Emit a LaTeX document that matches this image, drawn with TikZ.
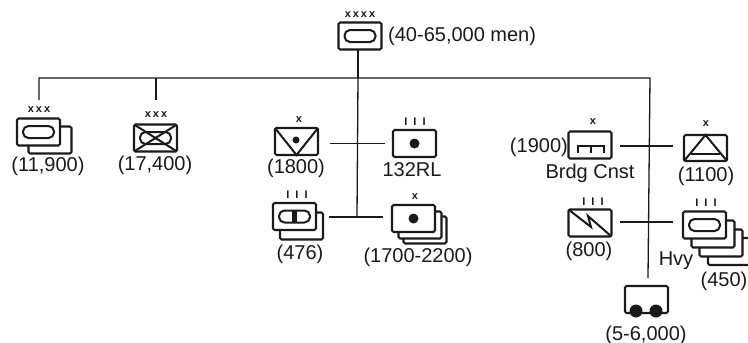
\documentclass[tikz,border=0pt]{standalone}
\usepackage{fontspec}
\setmainfont{Liberation Sans}
\usepackage{xcolor}
\definecolor{ink_black}{HTML}{1a1a1a}
\usetikzlibrary{positioning,calc}
\tikzset{UNIT/.style={rectangle,rounded corners=1.5pt,draw=ink_black,line width=2.1pt,fill=white,minimum width=43pt,minimum height=27pt,inner sep=0pt,outer sep=0pt}}
\tikzset{PILL/.style={rectangle,rounded corners=5.5pt,draw=ink_black,line width=2pt,minimum width=31pt,minimum height=12pt,inner sep=0pt}}
\tikzset{LABEL/.style={text=ink_black,font=\fontsize{20}{21}\selectfont,inner sep=0pt}}
\tikzset{ECHELON/.style={text=ink_black,font=\fontsize{11}{12}\selectfont\bfseries,inner sep=0pt}}
\tikzset{LINE/.style={draw=ink_black,line width=1.3pt}}
\tikzset{MARK/.style={draw=ink_black,line width=2pt}}
\tikzset{DOT/.style={circle,fill=ink_black,inner sep=0pt,minimum size=10pt}}

\begin{document}
\begin{tikzpicture}[x=1pt,y=-1pt]
\useasboundingbox[fill=white] (0,0) rectangle (748,343);

% army
\node[UNIT] (n_army) at (360,36) {};
\node[PILL] (n_army_pill) at (n_army.center) {};
\node[ECHELON] (n_army_ech) at (360,15) {x\hspace{2pt}x\hspace{2pt}x\hspace{2pt}x};
\node[LABEL,anchor=west] (n_army_txt) at (388,36) {(40-65,000 men)};

\coordinate (c_top) at (358,78);
\coordinate (c_left) at (39,78);
\coordinate (c_right) at (650,78);
\draw[LINE] (n_army.south-|c_top) -- (c_top);
\draw[LINE] (39,100) -- (c_left) -- (c_right) -- (648,278);

% corps
\node[UNIT] (n_corps_b) at (50,140) {};
\node[UNIT] (n_corps) at (38.5,132) {};
\node[PILL] (n_corps_pill) at (n_corps.center) {};
\node[ECHELON] (n_corps_ech) at (39,110) {x\hspace{2pt}x\hspace{2pt}x};
\node[LABEL] (n_corps_txt) at (48,166) {(11,900)};

\node[UNIT] (n_armor) at (155.5,138) {};
\node[PILL] (n_armor_pill) at (n_armor.center) {};
\draw[MARK] (n_armor.north west) -- (n_armor.south east);
\draw[MARK] (n_armor.south west) -- (n_armor.north east);
\node[DOT,minimum size=3pt] (n_armor_dot) at (n_armor.center) {};
\node[ECHELON] (n_armor_ech) at (156,115) {x\hspace{2pt}x\hspace{2pt}x};
\node[LABEL] (n_armor_txt) at (155,165) {(17,400)};
\coordinate (c_armor) at (156,100);
\draw[LINE] (c_armor) -- (c_armor|-c_left);

% centre column
\draw[LINE] (c_top) -- (357,217);

\node[UNIT] (n_ab) at (296.5,141.5) {};
\draw[MARK] (n_ab.north west) -- (n_ab.south) -- (n_ab.north east);
\node[DOT,minimum size=7pt] (n_ab_dot) at (296,140) {};
\node[ECHELON] (n_ab_ech) at (299,120) {x};
\node[LABEL] (n_ab_txt) at (296,168) {(1800)};

\node[UNIT] (n_rl) at (414.5,143.5) {};
\node[DOT] (n_rl_dot) at (n_rl.center) {};
\node[ECHELON] (n_rl_ech) at (415,122) {I\hspace{6pt}I\hspace{6pt}I};
\node[LABEL] (n_rl_txt) at (412,170) {132RL};
\coordinate (c_rl_w) at ($(n_rl.west)+(-8,0)$);
\coordinate (c_ab_e) at (330,143.5);
\draw[LINE] (c_ab_e) -- (c_rl_w);

\node[UNIT] (n_mech_b) at (301.5,226) {};
\node[UNIT] (n_mech) at (294.5,216.5) {};
\node[PILL] (n_mech_pill) at (n_mech.center) {};
\node[rectangle,fill=ink_black,inner sep=0pt,minimum width=5pt,minimum height=11pt] (n_mech_bar) at (n_mech.center) {};
\node[ECHELON] (n_mech_ech) at (297,195) {I\hspace{6pt}I\hspace{6pt}I};
\node[LABEL] (n_mech_txt) at (300,254) {(476)};

\node[UNIT] (n_art_c) at (425,230) {};
\node[UNIT] (n_art_b) at (420,225) {};
\node[UNIT] (n_art) at (413.5,218.5) {};
\node[DOT] (n_art_dot) at (n_art.center) {};
\node[ECHELON] (n_art_ech) at (415,197) {x};
\node[LABEL] (n_art_txt) at (418,257) {(1700-2200)};
\coordinate (c_mech_e) at (329,217);
\coordinate (c_art_w) at (383,217);
\draw[LINE] (c_mech_e) -- (c_art_w);

% right column
\node[UNIT] (n_brdg) at (590,145) {};
\draw[MARK] (578,153) -- (578,146) -- (604,146) -- (604,153);
\draw[MARK] (591,146) -- (591,153);
\node[ECHELON] (n_brdg_ech) at (593,122) {x};
\node[LABEL,anchor=east] (n_brdg_txt) at (568,147) {(1900)};
\node[LABEL] (n_brdg_name) at (590,173) {Brdg Cnst};

\node[UNIT,minimum height=26pt] (n_tri) at (705.5,148) {};
\draw[MARK] (n_tri.south west) -- (n_tri.north) -- (n_tri.south east);
\draw[MARK] (691,154) -- (720,154);
\node[ECHELON] (n_tri_ech) at (706,124) {x};
\node[LABEL] (n_tri_txt) at (706,176) {(1100)};
\coordinate (c_brdg_e) at (620,146);
\coordinate (c_tri_w) at (673,146);
\draw[LINE] (c_brdg_e) -- (c_tri_w);

\node[UNIT] (n_sig) at (590,223) {};
\draw[MARK] (n_sig.north west) -- (591,227) -- (588,216) -- (n_sig.south east);
\node[ECHELON] (n_sig_ech) at (593,202) {I\hspace{6pt}I\hspace{6pt}I};
\node[LABEL] (n_sig_txt) at (589,251) {(800)};

\node[UNIT] (n_hvy_d) at (729.5,251.5) {};
\node[UNIT] (n_hvy_c) at (721,243) {};
\node[UNIT] (n_hvy_b) at (713,234) {};
\node[UNIT] (n_hvy) at (704.5,225) {};
\node[PILL] (n_hvy_pill) at (n_hvy.center) {};
\node[ECHELON] (n_hvy_ech) at (706,203) {I\hspace{6pt}I\hspace{6pt}I};
\node[LABEL] (n_hvy_name) at (676,261) {Hvy};
\node[LABEL,anchor=east] (n_hvy_txt) at (747.5,281) {(450)};
\coordinate (c_sig_e) at (620,222);
\coordinate (c_hvy_w) at (673,222);
\draw[LINE] (c_sig_e) -- (c_hvy_w);

\node[UNIT] (n_trans) at (646.5,299.5) {};
\node[DOT,minimum size=13pt] (n_trans_l) at (636,311) {};
\node[DOT,minimum size=13pt] (n_trans_r) at (656,311) {};
\node[LABEL] (n_trans_txt) at (646,335) {(5-6,000)};

\end{tikzpicture}
\end{document}
